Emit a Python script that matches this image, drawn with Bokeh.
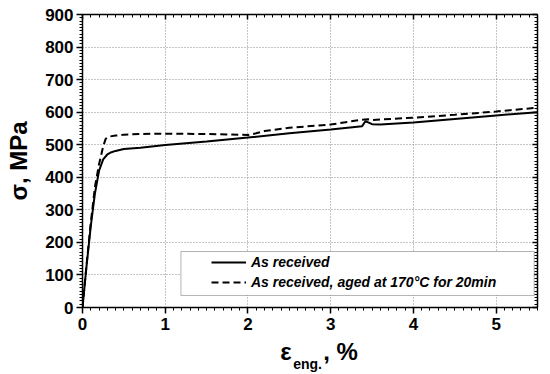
from bokeh.plotting import figure
from bokeh.models import (Range1d, FixedTicker, LinearAxis, Legend, LegendItem,
                          BoxAnnotation)
from bokeh.embed import file_html
from bokeh.resources import INLINE

# Data
strain_ar = [0.0, 0.05, 0.1, 0.15, 0.2, 0.25, 0.3, 0.35, 0.4, 0.5, 0.7, 1.0, 1.5, 2.0, 2.5, 3.0,
             3.38, 3.42, 3.46, 3.5, 3.6, 4.0, 4.5, 5.0, 5.5]
stress_ar = [0, 130, 250, 350, 420, 455, 470, 477, 481, 487, 491, 499, 510, 522, 535, 547,
             557, 572, 568, 563, 562, 568, 579, 590, 600]

strain_aged = [0.0, 0.05, 0.1, 0.15, 0.2, 0.25, 0.28, 0.32, 0.4, 0.5, 0.7, 1.0, 1.5, 2.0, 2.1,
               2.2, 2.5, 3.0, 3.38, 3.45, 3.5, 4.0, 4.5, 5.0, 5.5]
stress_aged = [0, 135, 260, 370, 440, 495, 518, 525, 528, 531, 533, 534, 533, 530, 535,
               542, 552, 562, 577, 578, 576, 583, 592, 602, 614]

x_ticks = [0, 1, 2, 3, 4, 5]
y_ticks = [0, 100, 200, 300, 400, 500, 600, 700, 800, 900]
x_minor = [i / 10 for i in range(0, 56)]
y_minor = list(range(0, 901, 10))

label_ar = "As received"
label_aged = "As received, aged at 170°C for 20min"
xlabel_main = "ε"
xlabel_sub = "eng."
xlabel_tail = ", %"
ylabel = "σ, MPa"

FONT = "Liberation Sans"

p = figure(width=550, height=374, output_backend="svg", toolbar_location=None,
           x_range=Range1d(0, 5.5), y_range=Range1d(0, 900),
           min_border_left=82, min_border_right=13, min_border_top=14, min_border_bottom=67)
p.outline_line_color = None
p.background_fill_color = "white"

xt = FixedTicker(ticks=x_ticks, minor_ticks=x_minor)
yt = FixedTicker(ticks=y_ticks, minor_ticks=y_minor)

# bottom / left axes
for ax in (p.xaxis[0], p.yaxis[0]):
    ax.axis_line_color = "black"
    ax.axis_line_width = 1.5
    ax.major_tick_line_color = "black"
    ax.minor_tick_line_color = "black"
    ax.major_tick_line_width = 1.5
    ax.major_tick_out = 6
    ax.major_tick_in = 0
    ax.minor_tick_out = 3
    ax.minor_tick_in = 0
    ax.major_label_text_font = FONT
    ax.major_label_text_font_style = "bold"
    ax.major_label_text_font_size = "17px"
    ax.major_label_text_color = "black"
p.xaxis[0].ticker = xt
p.yaxis[0].ticker = yt
p.xaxis[0].major_label_standoff = 4
p.yaxis[0].major_label_standoff = 3

p.yaxis[0].axis_label = ylabel
p.yaxis[0].axis_label_text_font = FONT
p.yaxis[0].axis_label_text_font_style = "bold"
p.yaxis[0].axis_label_text_font_size = "24px"
p.yaxis[0].axis_label_text_color = "black"
p.yaxis[0].axis_label_standoff = 10

# mirrored top / right axes with inward ticks
top = LinearAxis(ticker=FixedTicker(ticks=x_ticks, minor_ticks=x_minor))
right = LinearAxis(ticker=FixedTicker(ticks=y_ticks, minor_ticks=y_minor))
for ax in (top, right):
    ax.major_label_text_font_size = "0px"
    ax.major_label_text_alpha = 0
    ax.axis_line_color = "black"
    ax.axis_line_width = 1.5
    ax.major_tick_line_color = "black"
    ax.minor_tick_line_color = "black"
    ax.major_tick_line_width = 1.5
    ax.major_tick_in = 5
    ax.major_tick_out = 0
    ax.minor_tick_in = 3
    ax.minor_tick_out = 0
    ax.major_label_standoff = 0
p.add_layout(top, "above")
p.add_layout(right, "right")

# x axis title built from two label-only axes (subscript + main symbol)
def label_axis(ticks, texts, size, standoff):
    ax = LinearAxis(ticker=FixedTicker(ticks=ticks, minor_ticks=[]),
                    major_label_overrides={t: s for t, s in zip(ticks, texts)})
    ax.axis_line_color = None
    ax.major_tick_line_color = None
    ax.minor_tick_line_color = None
    ax.major_tick_in = 0
    ax.major_tick_out = 0
    ax.minor_tick_in = 0
    ax.minor_tick_out = 0
    ax.major_label_standoff = standoff
    ax.major_label_text_font = FONT
    ax.major_label_text_font_style = "bold"
    ax.major_label_text_font_size = size
    ax.major_label_text_color = "black"
    return ax

sub_ax = label_axis([2.72], [xlabel_sub], "14px", 23)
title_ax = label_axis([2.46, 3.12], [xlabel_main, xlabel_tail], "24px", -37)
p.add_layout(sub_ax, "below")
p.add_layout(title_ax, "below")

for g in (p.xgrid[0], p.ygrid[0]):
    g.grid_line_color = "#8a8a8a"
    g.grid_line_dash = "1 2"
    g.grid_line_width = 1
p.xgrid[0].ticker = xt
p.ygrid[0].ticker = yt

r1 = p.line(strain_ar, stress_ar, line_color="black", line_width=2)
r2 = p.line(strain_aged, stress_aged, line_color="black", line_width=2, line_dash="7 4")

box = BoxAnnotation(left=1.19, right=5.46, bottom=37, top=172,
                    fill_color="white", fill_alpha=1, line_color="black", line_width=1,
                    level="annotation")
p.add_layout(box)

legend = Legend(items=[LegendItem(label=label_ar, renderers=[r1]),
                       LegendItem(label=label_aged, renderers=[r2])],
                location=(129, 17), border_line_color=None, background_fill_alpha=0,
                padding=2, spacing=4, glyph_width=35, glyph_height=16, label_height=16,
                label_standoff=5, margin=0,
                label_text_font=FONT, label_text_font_style="bold italic",
                label_text_font_size="14px", label_text_color="black")
p.add_layout(legend, "center")

open("out.html", "w").write(file_html(p, INLINE))
